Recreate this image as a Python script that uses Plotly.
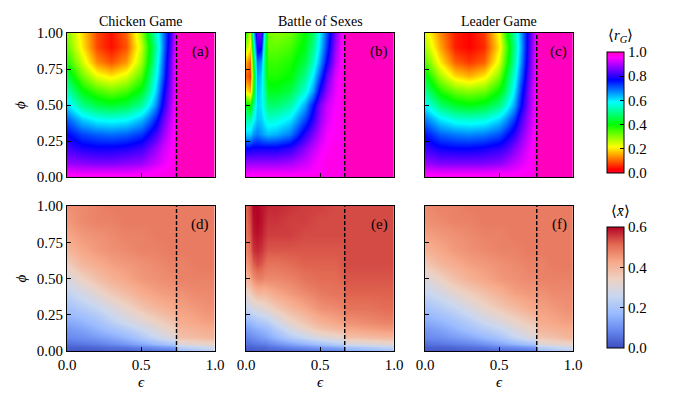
import numpy as np
import plotly.graph_objects as go
from plotly.subplots import make_subplots

GAMES = ["Chicken Game", "Battle of Sexes", "Leader Game"]
PANEL_LABELS = [["(a)", "(b)", "(c)"], ["(d)", "(e)", "(f)"]]
BOUNDARIES = [0.74, 0.667, 0.755]

# phi nodes (rows) for the two rows of panels
PHI_TOP = [0.0, 0.05, 0.1, 0.2, 0.3, 0.4, 0.5, 0.6, 0.7, 0.8, 0.9, 1.0]
PHI_BOTTOM = [0.0, 0.025, 0.05, 0.1, 0.15, 0.2, 0.3, 0.4, 0.5, 0.6, 0.7, 0.8, 0.9, 1.0]

# <r_G> left of the dashed line, rows follow PHI_TOP
EPS_A = [0.0, 0.1, 0.2, 0.3, 0.4, 0.5, 0.55, 0.6, 0.65, 0.7, 0.73]
RG_A = [
    [0.97, 0.97, 0.97, 0.97, 0.97, 0.97, 0.97, 0.97, 0.97, 0.97, 0.97],
    [0.93, 0.92, 0.92, 0.92, 0.92, 0.93, 0.94, 0.95, 0.96, 0.97, 0.97],
    [0.88, 0.87, 0.86, 0.86, 0.87, 0.88, 0.90, 0.92, 0.94, 0.96, 0.97],
    [0.82, 0.79, 0.78, 0.78, 0.79, 0.81, 0.84, 0.88, 0.92, 0.95, 0.97],
    [0.77, 0.72, 0.70, 0.69, 0.70, 0.73, 0.77, 0.82, 0.88, 0.94, 0.96],
    [0.70, 0.62, 0.58, 0.57, 0.58, 0.63, 0.68, 0.75, 0.84, 0.92, 0.96],
    [0.61, 0.50, 0.45, 0.43, 0.45, 0.51, 0.58, 0.67, 0.79, 0.90, 0.96],
    [0.53, 0.41, 0.35, 0.32, 0.35, 0.42, 0.50, 0.62, 0.76, 0.88, 0.95],
    [0.45, 0.32, 0.23, 0.20, 0.24, 0.34, 0.45, 0.58, 0.72, 0.87, 0.95],
    [0.38, 0.25, 0.13, 0.09, 0.14, 0.28, 0.40, 0.55, 0.70, 0.86, 0.95],
    [0.33, 0.20, 0.08, 0.04, 0.09, 0.25, 0.38, 0.52, 0.68, 0.84, 0.94],
    [0.30, 0.19, 0.08, 0.04, 0.10, 0.28, 0.42, 0.55, 0.68, 0.82, 0.93],
]

EPS_B = [0.0, 0.025, 0.05, 0.075, 0.1, 0.125, 0.15, 0.2, 0.3, 0.4, 0.45, 0.5, 0.55, 0.6, 0.65]
RG_B = [
    [0.97, 0.97, 0.97, 0.97, 0.97, 0.97, 0.97, 0.97, 0.97, 0.97, 0.97, 0.97, 0.97, 0.97, 0.97],
    [0.93, 0.93, 0.93, 0.93, 0.93, 0.93, 0.93, 0.93, 0.93, 0.94, 0.95, 0.96, 0.97, 0.97, 0.97],
    [0.88, 0.88, 0.88, 0.88, 0.88, 0.88, 0.88, 0.88, 0.89, 0.92, 0.94, 0.96, 0.97, 0.97, 0.97],
    [0.77, 0.77, 0.78, 0.78, 0.78, 0.78, 0.78, 0.78, 0.80, 0.87, 0.91, 0.94, 0.96, 0.97, 0.97],
    [0.62, 0.62, 0.66, 0.68, 0.66, 0.64, 0.63, 0.64, 0.68, 0.80, 0.86, 0.91, 0.95, 0.96, 0.97],
    [0.52, 0.52, 0.58, 0.63, 0.62, 0.58, 0.55, 0.56, 0.60, 0.72, 0.80, 0.88, 0.93, 0.96, 0.97],
    [0.42, 0.38, 0.50, 0.62, 0.60, 0.53, 0.48, 0.48, 0.52, 0.65, 0.76, 0.86, 0.92, 0.95, 0.97],
    [0.20, 0.16, 0.38, 0.64, 0.60, 0.50, 0.42, 0.42, 0.45, 0.56, 0.66, 0.79, 0.88, 0.94, 0.97],
    [0.10, 0.07, 0.35, 0.66, 0.62, 0.46, 0.38, 0.38, 0.40, 0.50, 0.60, 0.72, 0.84, 0.93, 0.97],
    [0.15, 0.10, 0.40, 0.70, 0.66, 0.45, 0.36, 0.36, 0.38, 0.45, 0.54, 0.66, 0.78, 0.90, 0.96],
    [0.28, 0.20, 0.50, 0.80, 0.78, 0.45, 0.33, 0.33, 0.35, 0.42, 0.50, 0.62, 0.74, 0.88, 0.96],
    [0.36, 0.25, 0.60, 0.85, 0.85, 0.50, 0.32, 0.30, 0.32, 0.40, 0.47, 0.60, 0.72, 0.86, 0.95],
]

EPS_C = [0.0, 0.1, 0.2, 0.3, 0.4, 0.5, 0.55, 0.6, 0.65, 0.7, 0.745]
RG_C = [
    [0.97, 0.97, 0.97, 0.97, 0.97, 0.97, 0.97, 0.97, 0.97, 0.97, 0.97],
    [0.93, 0.92, 0.92, 0.92, 0.92, 0.93, 0.93, 0.94, 0.95, 0.96, 0.97],
    [0.88, 0.86, 0.86, 0.86, 0.86, 0.87, 0.89, 0.91, 0.93, 0.95, 0.97],
    [0.81, 0.78, 0.77, 0.77, 0.78, 0.80, 0.82, 0.86, 0.90, 0.94, 0.97],
    [0.76, 0.70, 0.68, 0.67, 0.68, 0.71, 0.75, 0.80, 0.86, 0.92, 0.96],
    [0.68, 0.60, 0.56, 0.55, 0.56, 0.61, 0.66, 0.73, 0.82, 0.90, 0.95],
    [0.59, 0.48, 0.43, 0.41, 0.43, 0.49, 0.56, 0.65, 0.77, 0.88, 0.95],
    [0.50, 0.38, 0.32, 0.30, 0.32, 0.40, 0.48, 0.60, 0.74, 0.87, 0.95],
    [0.42, 0.28, 0.19, 0.16, 0.20, 0.31, 0.43, 0.56, 0.70, 0.85, 0.94],
    [0.34, 0.20, 0.10, 0.07, 0.10, 0.24, 0.37, 0.52, 0.67, 0.83, 0.94],
    [0.28, 0.15, 0.05, 0.03, 0.06, 0.20, 0.34, 0.50, 0.65, 0.82, 0.93],
    [0.24, 0.13, 0.05, 0.03, 0.07, 0.22, 0.38, 0.52, 0.66, 0.81, 0.93],
]

# right of the dashed line every game sits at r_G = 1
RG_RIGHT = 1.0

# <x> left of the dashed line, rows follow PHI_BOTTOM
EPS_D = [0.0, 0.1, 0.2, 0.3, 0.4, 0.5, 0.6, 0.7, 0.73]
X_D = [
    [0.02, 0.02, 0.02, 0.03, 0.03, 0.04, 0.05, 0.06, 0.07],
    [0.03, 0.03, 0.04, 0.05, 0.06, 0.08, 0.10, 0.12, 0.13],
    [0.05, 0.06, 0.07, 0.09, 0.11, 0.14, 0.17, 0.20, 0.21],
    [0.09, 0.10, 0.12, 0.14, 0.17, 0.21, 0.26, 0.30, 0.31],
    [0.11, 0.13, 0.16, 0.19, 0.22, 0.26, 0.30, 0.34, 0.35],
    [0.14, 0.16, 0.19, 0.23, 0.27, 0.30, 0.34, 0.37, 0.38],
    [0.19, 0.22, 0.25, 0.29, 0.33, 0.37, 0.40, 0.42, 0.43],
    [0.24, 0.28, 0.32, 0.36, 0.39, 0.42, 0.44, 0.45, 0.45],
    [0.29, 0.34, 0.38, 0.41, 0.43, 0.45, 0.46, 0.47, 0.47],
    [0.35, 0.40, 0.42, 0.44, 0.45, 0.46, 0.47, 0.48, 0.48],
    [0.40, 0.43, 0.45, 0.46, 0.47, 0.48, 0.48, 0.49, 0.49],
    [0.43, 0.45, 0.46, 0.47, 0.48, 0.48, 0.49, 0.49, 0.49],
    [0.45, 0.47, 0.48, 0.48, 0.49, 0.49, 0.49, 0.49, 0.49],
    [0.46, 0.47, 0.48, 0.49, 0.49, 0.49, 0.49, 0.49, 0.49],
]
X_D_RIGHT = [
    [0.18, 0.20, 0.22],
    [0.23, 0.25, 0.27],
    [0.30, 0.32, 0.33],
    [0.38, 0.39, 0.40],
    [0.40, 0.41, 0.42],
    [0.42, 0.43, 0.44],
    [0.44, 0.45, 0.46],
    [0.46, 0.47, 0.47],
    [0.48, 0.48, 0.48],
    [0.48, 0.49, 0.49],
    [0.49, 0.49, 0.49],
    [0.49, 0.49, 0.49],
    [0.49, 0.49, 0.49],
    [0.49, 0.49, 0.49],
]

EPS_E = [0.0, 0.025, 0.05, 0.075, 0.1, 0.125, 0.15, 0.2, 0.3, 0.4, 0.5, 0.6, 0.655]
X_E = [
    [0.02, 0.02, 0.02, 0.02, 0.02, 0.03, 0.03, 0.03, 0.04, 0.05, 0.06, 0.07, 0.08],
    [0.03, 0.03, 0.03, 0.04, 0.04, 0.04, 0.05, 0.06, 0.08, 0.10, 0.12, 0.14, 0.15],
    [0.05, 0.05, 0.06, 0.06, 0.07, 0.07, 0.08, 0.10, 0.13, 0.16, 0.19, 0.22, 0.23],
    [0.08, 0.09, 0.10, 0.11, 0.12, 0.13, 0.14, 0.17, 0.22, 0.26, 0.30, 0.32, 0.33],
    [0.12, 0.13, 0.14, 0.15, 0.16, 0.17, 0.18, 0.22, 0.28, 0.33, 0.37, 0.39, 0.40],
    [0.16, 0.17, 0.18, 0.20, 0.21, 0.22, 0.23, 0.27, 0.33, 0.37, 0.41, 0.43, 0.44],
    [0.25, 0.27, 0.29, 0.30, 0.31, 0.32, 0.33, 0.36, 0.40, 0.43, 0.46, 0.47, 0.48],
    [0.33, 0.35, 0.38, 0.40, 0.40, 0.40, 0.41, 0.43, 0.45, 0.47, 0.49, 0.50, 0.50],
    [0.40, 0.43, 0.46, 0.48, 0.48, 0.47, 0.47, 0.47, 0.48, 0.50, 0.51, 0.51, 0.52],
    [0.45, 0.48, 0.52, 0.54, 0.53, 0.51, 0.50, 0.50, 0.51, 0.52, 0.52, 0.52, 0.53],
    [0.48, 0.51, 0.56, 0.57, 0.56, 0.54, 0.53, 0.53, 0.53, 0.53, 0.53, 0.53, 0.53],
    [0.50, 0.53, 0.58, 0.59, 0.58, 0.56, 0.55, 0.55, 0.55, 0.54, 0.54, 0.54, 0.54],
    [0.51, 0.54, 0.59, 0.60, 0.59, 0.57, 0.56, 0.56, 0.55, 0.55, 0.54, 0.54, 0.54],
    [0.52, 0.55, 0.60, 0.60, 0.59, 0.58, 0.57, 0.57, 0.56, 0.55, 0.55, 0.54, 0.54],
]
X_E_RIGHT = [
    [0.14, 0.16, 0.18],
    [0.20, 0.22, 0.24],
    [0.28, 0.30, 0.31],
    [0.38, 0.39, 0.40],
    [0.43, 0.44, 0.45],
    [0.46, 0.47, 0.48],
    [0.50, 0.50, 0.51],
    [0.52, 0.52, 0.52],
    [0.53, 0.53, 0.53],
    [0.54, 0.54, 0.54],
    [0.54, 0.54, 0.54],
    [0.54, 0.54, 0.54],
    [0.54, 0.54, 0.54],
    [0.54, 0.54, 0.54],
]

EPS_F = [0.0, 0.1, 0.2, 0.3, 0.4, 0.5, 0.6, 0.7, 0.745]
X_F = [
    [0.02, 0.02, 0.02, 0.03, 0.03, 0.04, 0.05, 0.06, 0.06],
    [0.03, 0.03, 0.04, 0.05, 0.06, 0.08, 0.09, 0.11, 0.12],
    [0.05, 0.06, 0.07, 0.08, 0.10, 0.13, 0.16, 0.19, 0.20],
    [0.09, 0.10, 0.12, 0.14, 0.17, 0.20, 0.25, 0.29, 0.30],
    [0.11, 0.13, 0.16, 0.19, 0.22, 0.25, 0.29, 0.33, 0.34],
    [0.14, 0.16, 0.19, 0.22, 0.26, 0.29, 0.33, 0.36, 0.37],
    [0.19, 0.22, 0.25, 0.29, 0.33, 0.36, 0.39, 0.42, 0.43],
    [0.25, 0.28, 0.32, 0.35, 0.38, 0.41, 0.44, 0.45, 0.45],
    [0.30, 0.34, 0.38, 0.41, 0.43, 0.45, 0.46, 0.47, 0.47],
    [0.36, 0.40, 0.42, 0.44, 0.45, 0.46, 0.47, 0.48, 0.48],
    [0.41, 0.43, 0.45, 0.46, 0.47, 0.48, 0.48, 0.49, 0.49],
    [0.44, 0.45, 0.46, 0.47, 0.48, 0.48, 0.49, 0.49, 0.49],
    [0.46, 0.47, 0.48, 0.48, 0.49, 0.49, 0.49, 0.49, 0.49],
    [0.47, 0.48, 0.48, 0.49, 0.49, 0.49, 0.49, 0.49, 0.49],
]
X_F_RIGHT = [
    [0.18, 0.20, 0.22],
    [0.23, 0.25, 0.27],
    [0.30, 0.32, 0.33],
    [0.37, 0.38, 0.40],
    [0.40, 0.41, 0.42],
    [0.42, 0.43, 0.44],
    [0.44, 0.45, 0.46],
    [0.46, 0.47, 0.47],
    [0.48, 0.48, 0.48],
    [0.48, 0.49, 0.49],
    [0.49, 0.49, 0.49],
    [0.49, 0.49, 0.49],
    [0.49, 0.49, 0.49],
    [0.49, 0.49, 0.49],
]

TOP_EPS = [EPS_A, EPS_B, EPS_C]
TOP_VALUES = [RG_A, RG_B, RG_C]
BOTTOM_EPS = [EPS_D, EPS_E, EPS_F]
BOTTOM_VALUES = [X_D, X_E, X_F]
BOTTOM_RIGHT = [X_D_RIGHT, X_E_RIGHT, X_F_RIGHT]

RG_TICKS = [0.0, 0.2, 0.4, 0.6, 0.8, 1.0]
X_TICKS = [0.0, 0.2, 0.4, 0.6]
EPS_TICKS = [0.0, 0.5, 1.0]
PHI_TICKS = [0.0, 0.25, 0.5, 0.75, 1.0]

GIST_RAINBOW = [
    [0.0, "rgb(255,0,41)"], [0.03, "rgb(255,0,0)"], [0.215, "rgb(255,255,0)"],
    [0.4, "rgb(0,255,0)"], [0.586, "rgb(0,255,255)"], [0.77, "rgb(0,0,255)"],
    [0.954, "rgb(255,0,255)"], [1.0, "rgb(255,0,191)"],
]
COOLWARM = [
    [0 / 7, "#3b4cc0"], [1 / 7, "#6788ee"], [2 / 7, "#9abbff"], [3 / 7, "#c9d7f0"],
    [4 / 7, "#edd1c2"], [5 / 7, "#f7a889"], [6 / 7, "#e26952"], [7 / 7, "#b40426"],
]

FONT = "Liberation Serif"
W, H = 675, 405
PAGE_MARGIN = 8  # default body margin of the html page
# plot area in window pixels: the outer edges of the six panels
LEFT, RIGHT, TOP, BOTTOM = 67, 573, 33, 351


def px(x):
    return (x - LEFT) / (RIGHT - LEFT)


def py(y):
    return (BOTTOM - y) / (BOTTOM - TOP)


X_DOMAINS = [[px(67), px(215)], [px(246), px(394)], [px(425), px(573)]]
Y_DOMAINS = [[py(177), py(33)], [py(351), py(206)]]

fig = make_subplots(rows=2, cols=3)

for col in range(3):
    b = BOUNDARIES[col]
    # top row: <r_G>
    fig.add_trace(
        go.Heatmap(x=TOP_EPS[col], y=PHI_TOP, z=TOP_VALUES[col], coloraxis="coloraxis",
                   zsmooth="best", hoverinfo="skip"),
        row=1, col=col + 1,
    )
    fig.add_trace(
        go.Heatmap(x=[b, 1.0], y=[0.0, 1.0], z=[[RG_RIGHT]], coloraxis="coloraxis",
                   zsmooth=False, hoverinfo="skip"),
        row=1, col=col + 1,
    )
    # bottom row: <x>
    fig.add_trace(
        go.Heatmap(x=BOTTOM_EPS[col], y=PHI_BOTTOM, z=BOTTOM_VALUES[col], coloraxis="coloraxis2",
                   zsmooth="best", hoverinfo="skip"),
        row=2, col=col + 1,
    )
    fig.add_trace(
        go.Heatmap(x=list(np.linspace(b, 1.0, 4)), y=PHI_BOTTOM, z=BOTTOM_RIGHT[col],
                   coloraxis="coloraxis2", zsmooth="best", hoverinfo="skip"),
        row=2, col=col + 1,
    )
    for row in (1, 2):
        fig.add_trace(
            go.Scatter(x=[b, b], y=[0.0, 1.0], mode="lines", showlegend=False, hoverinfo="skip",
                       line=dict(color="black", width=1.4, dash="4px,2px")),
            row=row, col=col + 1,
        )

for row in (1, 2):
    for col in range(3):
        fig.update_xaxes(
            domain=X_DOMAINS[col], range=[0, 1], tickvals=EPS_TICKS, tickformat=".1f",
            showticklabels=(row == 2), ticks="inside", ticklen=4, tickcolor="black",
            showline=True, mirror=True, linecolor="black", linewidth=1, automargin=False,
            showgrid=False, zeroline=False, tickfont=dict(size=15), row=row, col=col + 1,
        )
        fig.update_yaxes(
            domain=Y_DOMAINS[row - 1], range=[0, 1], tickvals=PHI_TICKS, tickformat=".2f",
            showticklabels=(col == 0), ticks="inside", ticklen=4, tickcolor="black",
            showline=True, mirror=True, linecolor="black", linewidth=1, automargin=False,
            showgrid=False, zeroline=False, tickfont=dict(size=15), row=row, col=col + 1,
        )
        axis_n = (row - 1) * 3 + col + 1
        suffix = "" if axis_n == 1 else str(axis_n)
        fig.add_annotation(
            text=PANEL_LABELS[row - 1][col], x=0.975, y=0.87, xref="x" + suffix, yref="y" + suffix,
            xanchor="right", yanchor="middle", showarrow=False, font=dict(size=15),
        )


def add_text(text, x, y, size, angle=0):
    fig.add_annotation(text=text, x=px(x), y=py(y), xref="paper", yref="paper",
                       xanchor="center", yanchor="middle", showarrow=False,
                       textangle=angle, font=dict(size=size))


for col, (x0, x1) in enumerate([(67, 215), (246, 394), (425, 573)]):
    add_text(GAMES[col], (x0 + x1) / 2, 21, 14)
    add_text("<i>ϵ</i>", (x0 + x1) / 2, 382, 15)

add_text("<i>ϕ</i>", 20, 105, 15, angle=-90)
add_text("<i>ϕ</i>", 20, 278.5, 15, angle=-90)
add_text("⟨<i>r</i><sub><i>G</i></sub>⟩", 620, 36, 15)
add_text("⟨<i>x̄</i>⟩", 620, 211, 15)

colorbar_common = dict(
    x=px(607), xanchor="left", xpad=0, ypad=0, thickness=17, len=121, lenmode="pixels",
    yanchor="middle", outlinecolor="black", outlinewidth=1, ticks="inside", ticklen=4,
    tickcolor="black", tickformat=".1f", tickfont=dict(size=15, family=FONT),
)

fig.update_layout(
    width=W - PAGE_MARGIN, height=H - PAGE_MARGIN,
    margin=dict(l=LEFT - PAGE_MARGIN, r=W - RIGHT, t=TOP - PAGE_MARGIN, b=H - BOTTOM),
    paper_bgcolor="white", plot_bgcolor="white",
    font=dict(family=FONT, size=14, color="black"),
    showlegend=False,
    coloraxis=dict(colorscale=GIST_RAINBOW, cmin=0, cmax=1,
                   colorbar=dict(y=py(112.5), tickvals=RG_TICKS, **colorbar_common)),
    coloraxis2=dict(colorscale=COOLWARM, cmin=0, cmax=0.6,
                    colorbar=dict(y=py(287.5), tickvals=X_TICKS, **colorbar_common)),
)

fig.write_html("out.html")
